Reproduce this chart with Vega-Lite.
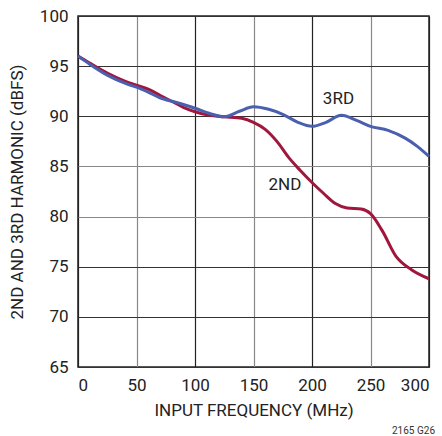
{
  "$schema": "https://vega.github.io/schema/vega-lite/v6.json",
  "width": 351,
  "height": 351,
  "autosize": {"type": "none"},
  "padding": {"left": 78, "top": 16, "right": 13, "bottom": 69},
  "background": "white",
  "config": {
    "font": "Roboto",
    "view": {"stroke": "#222", "strokeWidth": 1.5}
  },
  "title": {"text": "2165 G26", "orient": "bottom", "anchor": "end", "fontSize": 10, "fontWeight": "normal", "color": "#333", "offset": 8, "font": "Roboto"},
  "datasets": {
    "curves": [
      {"series": "2ND", "f": 0, "h": 96.0},
      {"series": "2ND", "f": 10, "h": 95.3},
      {"series": "2ND", "f": 25, "h": 94.3},
      {"series": "2ND", "f": 40, "h": 93.5},
      {"series": "2ND", "f": 50, "h": 93.1},
      {"series": "2ND", "f": 60, "h": 92.7},
      {"series": "2ND", "f": 70, "h": 92.1},
      {"series": "2ND", "f": 80, "h": 91.5},
      {"series": "2ND", "f": 90, "h": 90.9},
      {"series": "2ND", "f": 100, "h": 90.45},
      {"series": "2ND", "f": 112, "h": 90.1},
      {"series": "2ND", "f": 125, "h": 89.95},
      {"series": "2ND", "f": 140, "h": 89.8},
      {"series": "2ND", "f": 150, "h": 89.4},
      {"series": "2ND", "f": 160, "h": 88.7},
      {"series": "2ND", "f": 170, "h": 87.5},
      {"series": "2ND", "f": 180, "h": 85.9},
      {"series": "2ND", "f": 190, "h": 84.6},
      {"series": "2ND", "f": 200, "h": 83.4},
      {"series": "2ND", "f": 210, "h": 82.3},
      {"series": "2ND", "f": 220, "h": 81.3},
      {"series": "2ND", "f": 230, "h": 80.85},
      {"series": "2ND", "f": 242, "h": 80.75},
      {"series": "2ND", "f": 250, "h": 80.3},
      {"series": "2ND", "f": 260, "h": 78.6},
      {"series": "2ND", "f": 272, "h": 76.0},
      {"series": "2ND", "f": 285, "h": 74.7},
      {"series": "2ND", "f": 300, "h": 73.8},
      {"series": "3RD", "f": 0, "h": 96.0},
      {"series": "3RD", "f": 10, "h": 95.2},
      {"series": "3RD", "f": 25, "h": 94.1},
      {"series": "3RD", "f": 40, "h": 93.3},
      {"series": "3RD", "f": 50, "h": 92.9},
      {"series": "3RD", "f": 60, "h": 92.4},
      {"series": "3RD", "f": 70, "h": 91.85},
      {"series": "3RD", "f": 85, "h": 91.35},
      {"series": "3RD", "f": 100, "h": 90.8},
      {"series": "3RD", "f": 112, "h": 90.3},
      {"series": "3RD", "f": 125, "h": 89.95},
      {"series": "3RD", "f": 138, "h": 90.5},
      {"series": "3RD", "f": 150, "h": 90.95},
      {"series": "3RD", "f": 163, "h": 90.7},
      {"series": "3RD", "f": 175, "h": 90.2},
      {"series": "3RD", "f": 188, "h": 89.4},
      {"series": "3RD", "f": 200, "h": 89.0},
      {"series": "3RD", "f": 212, "h": 89.4},
      {"series": "3RD", "f": 225, "h": 90.1},
      {"series": "3RD", "f": 238, "h": 89.6},
      {"series": "3RD", "f": 250, "h": 89.0},
      {"series": "3RD", "f": 265, "h": 88.6},
      {"series": "3RD", "f": 280, "h": 87.8},
      {"series": "3RD", "f": 290, "h": 87.0},
      {"series": "3RD", "f": 300, "h": 86.0}
    ],
    "labels": [
      {"series": "3RD", "f": 222.6, "h": 91.72},
      {"series": "2ND", "f": 176.9, "h": 83.1}
    ]
  },
  "layer": [
    {
      "data": {"name": "curves"},
      "mark": {"type": "line", "interpolate": "monotone", "strokeWidth": 3},
      "encoding": {
        "x": {
          "field": "f", "type": "quantitative",
          "scale": {"domain": [0, 300], "nice": false},
          "axis": {
            "title": "INPUT FREQUENCY (MHz)",
            "values": [0, 50, 100, 150, 200, 250, 300],
            "ticks": false, "domain": false,
            "labelFontSize": 17, "labelColor": "#222", "labelPadding": 10,
            "titleFontSize": 17, "titleFontWeight": "normal", "titleColor": "#222", "titlePadding": 9,
            "gridColor": {"condition": {"test": "datum.value % 100 === 0", "value": "#222"}, "value": "#888"},
            "gridWidth": 1.2, "gridOpacity": 1
          }
        },
        "y": {
          "field": "h", "type": "quantitative",
          "scale": {"domain": [65, 100], "nice": false, "zero": false},
          "axis": {
            "title": "2ND AND 3RD HARMONIC (dBFS)",
            "values": [65, 70, 75, 80, 85, 90, 95, 100],
            "ticks": false, "domain": false,
            "labelFontSize": 17, "labelColor": "#222", "labelPadding": 10,
            "titleFontSize": 17, "titleFontWeight": "normal", "titleColor": "#222", "titlePadding": 13,
            "gridColor": {"condition": {"test": "datum.value === 85 || datum.value === 80", "value": "#888"}, "value": "#333"},
            "gridWidth": 1.2, "gridOpacity": 1
          }
        },
        "color": {
          "field": "series", "type": "nominal",
          "scale": {"domain": ["2ND", "3RD"], "range": ["#a0173d", "#4a5fae"]},
          "legend": null
        }
      }
    },
    {
      "data": {"name": "labels"},
      "mark": {"type": "text", "fontSize": 17, "color": "#222", "align": "center", "baseline": "middle"},
      "encoding": {
        "x": {"field": "f", "type": "quantitative"},
        "y": {"field": "h", "type": "quantitative"},
        "text": {"field": "series", "type": "nominal"}
      }
    }
  ]
}
